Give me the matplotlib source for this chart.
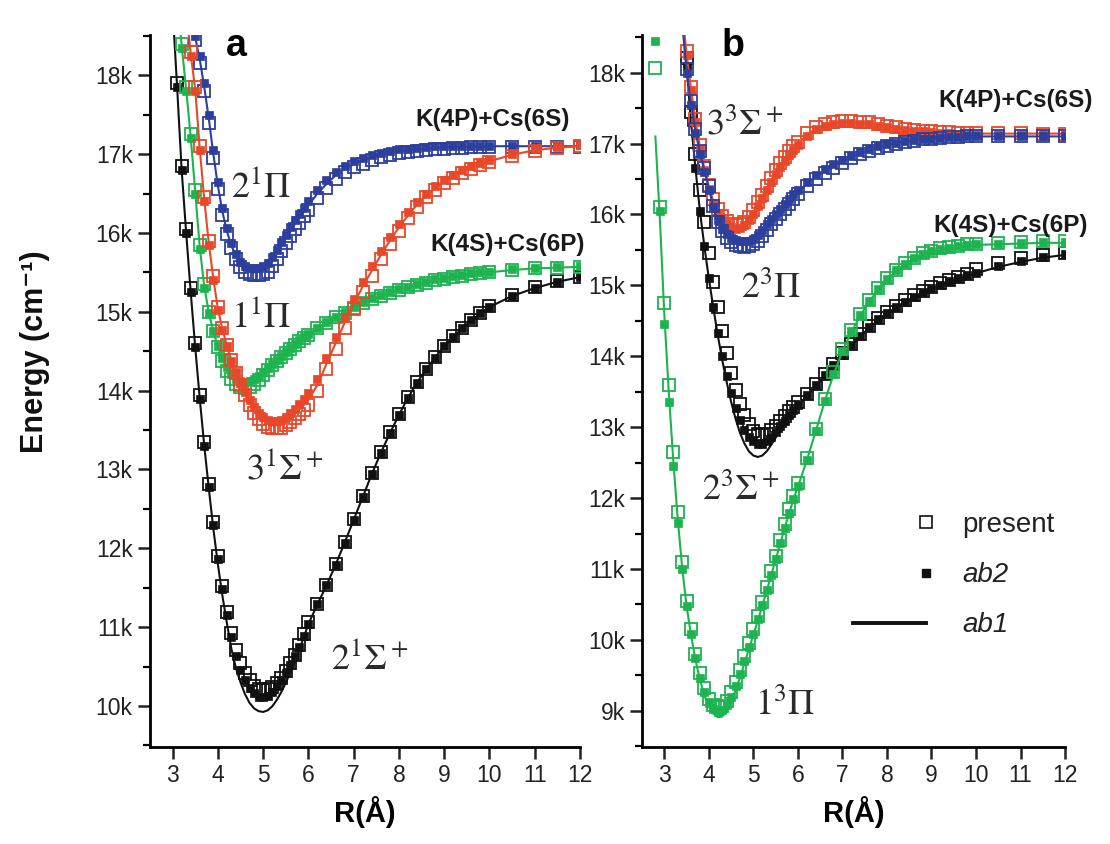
import numpy as np
import matplotlib
matplotlib.use("Agg")
import matplotlib.pyplot as plt
from matplotlib.ticker import MultipleLocator, FuncFormatter
from matplotlib.lines import Line2D
from matplotlib.legend_handler import HandlerLine2D

plt.rcParams['font.family'] = ['Liberation Sans', 'DejaVu Sans']
plt.rcParams['mathtext.fontset'] = 'stix'

BLACK = "#111111"
GREEN = "#1db34f"
RED = "#e8472a"
BLUE = "#2c3f9c"

# ---- panel a : singlet states, R in Angstrom, energies in cm-1 ----
R_a = [3.0, 3.1, 3.2, 3.3, 3.4, 3.5, 3.6, 3.7, 3.8, 3.9,
       4.0, 4.1, 4.2, 4.3, 4.4, 4.5, 4.6, 4.7, 4.8, 4.9,
       5.0, 5.1, 5.2, 5.3, 5.4, 5.5, 5.6, 5.7, 5.8, 5.9,
       6.0, 6.2, 6.4, 6.6, 6.8, 7.0, 7.2, 7.4, 7.6, 7.8,
       8.0, 8.2, 8.4, 8.6, 8.8, 9.0, 9.2, 9.4, 9.6, 9.8,
       10.0, 10.5, 11.0, 11.5, 12.0]

s21_present = [18900, 17900, 16850, 16050, 15300, 14600, 13950, 13350, 12820, 12330,
               11900, 11520, 11190, 10920, 10710, 10540, 10420, 10330, 10260, 10220,
               10200, 10210, 10240, 10290, 10360, 10440, 10540, 10650, 10770, 10910,
               11060, 11300, 11540, 11800, 12080, 12370, 12660, 12950, 13220, 13470,
               13700, 13920, 14110, 14280, 14430, 14570, 14690, 14800, 14900, 14990,
               15070, 15210, 15310, 15390, 15440]
s21_ab2 = [18850, 17850, 16800, 16000, 15250, 14550, 13900, 13300, 12780, 12290,
           11860, 11480, 11150, 10870, 10640, 10460, 10330, 10230, 10160, 10120,
           10110, 10130, 10180, 10250, 10330, 10420, 10520, 10630, 10750, 10890,
           11040, 11290, 11530, 11790, 12070, 12360, 12650, 12940, 13210, 13460,
           13690, 13910, 14100, 14270, 14420, 14560, 14680, 14790, 14890, 14980,
           15060, 15200, 15300, 15380, 15440]
s21_ab1 = [18850, 17850, 16800, 16000, 15250, 14550, 13900, 13300, 12760, 12250,
           11800, 11400, 11050, 10720, 10480, 10300, 10150, 10040, 9970, 9935,
           9925, 9945, 9995, 10075, 10175, 10295, 10425, 10565, 10715, 10875,
           11040, 11290, 11530, 11790, 12070, 12360, 12650, 12940, 13210, 13460,
           13690, 13910, 14100, 14270, 14420, 14560, 14680, 14790, 14890, 14980,
           15060, 15200, 15300, 15380, 15440]

p11_present = [None, 19000, 18400, 17850, 17250, 16550, 15850, 15350, 15000, 14750,
               14550, 14380, 14250, 14150, 14080, 14040, 14030, 14050, 14090, 14140,
               14200, 14260, 14320, 14380, 14430, 14480, 14530, 14580, 14630, 14670,
               14710, 14790, 14860, 14930, 14990, 15050, 15110, 15160, 15200, 15240,
               15280, 15310, 15340, 15370, 15400, 15420, 15440, 15460, 15480, 15490,
               15500, 15530, 15550, 15560, 15570]
p11_ab2 = [None, 19000, 18350, 17800, 17200, 16500, 15800, 15300, 14980, 14750,
           14570, 14420, 14300, 14210, 14150, 14120, 14110, 14120, 14150, 14190,
           14240, 14290, 14340, 14390, 14440, 14490, 14540, 14590, 14640, 14680,
           14720, 14800, 14870, 14940, 15000, 15060, 15120, 15170, 15210, 15250,
           15290, 15320, 15350, 15380, 15410, 15430, 15450, 15470, 15490, 15500,
           15510, 15540, 15560, 15570, 15580]
p11_ab1 = [None, 19000, 18380, 17820, 17220, 16520, 15820, 15320, 14990, 14750,
           14560, 14400, 14270, 14180, 14110, 14080, 14070, 14080, 14120, 14170,
           14220, 14280, 14330, 14380, 14430, 14480, 14530, 14580, 14630, 14670,
           14710, 14790, 14860, 14930, 14990, 15050, 15110, 15160, 15200, 15240,
           15280, 15310, 15340, 15370, 15400, 15420, 15440, 15460, 15480, 15490,
           15500, 15530, 15550, 15560, 15570]

s31_present = [None, None, None, 18900, 18300, 17850, 17100, 16450, 15900, 15450,
               15060, 14800, 14580, 14390, 14220, 14070, 13940, 13820, 13720, 13640,
               13580, 13540, 13520, 13520, 13530, 13560, 13600, 13650, 13700, 13760,
               13820, 13990, 14270, 14530, 14790, 15030, 15250, 15460, 15670, 15860,
               16030, 16190, 16330, 16450, 16550, 16630, 16700, 16760, 16810, 16860,
               16900, 16980, 17040, 17080, 17100]
s31_ab2 = [None, None, None, 18850, 18250, 17800, 17050, 16400, 15850, 15400,
           15020, 14770, 14560, 14380, 14230, 14100, 13980, 13880, 13790, 13720,
           13670, 13630, 13610, 13610, 13630, 13660, 13710, 13770, 13830, 13900,
           13970, 14150, 14420, 14680, 14930, 15160, 15380, 15580, 15770, 15950,
           16110, 16260, 16390, 16500, 16590, 16670, 16740, 16800, 16850, 16890,
           16930, 17000, 17060, 17090, 17110]
s31_ab1 = [None, None, None, 18870, 18270, 17820, 17070, 16420, 15870, 15420,
           15040, 14780, 14570, 14380, 14220, 14080, 13950, 13840, 13750, 13680,
           13620, 13580, 13560, 13560, 13580, 13610, 13650, 13700, 13760, 13820,
           13890, 14070, 14340, 14600, 14860, 15100, 15320, 15520, 15720, 15900,
           16070, 16220, 16360, 16470, 16570, 16650, 16720, 16780, 16830, 16870,
           16910, 16990, 17050, 17080, 17100]

p21_present = [None, None, None, None, 18900, 18450, 18150, 17800, 17400, 16950,
               16560, 16230, 15990, 15810, 15670, 15570, 15510, 15480, 15470, 15470,
               15480, 15510, 15580, 15670, 15770, 15870, 15960, 16050, 16130, 16210,
               16290, 16440, 16570, 16680, 16770, 16830, 16880, 16920, 16960, 16990,
               17010, 17030, 17040, 17050, 17060, 17070, 17080, 17080, 17090, 17090,
               17090, 17090, 17090, 17090, 17090]
p21_ab2 = [None, None, None, None, 18900, 18500, 18250, 17900, 17500, 17050,
           16650, 16310, 16060, 15870, 15730, 15630, 15580, 15560, 15550, 15560,
           15580, 15620, 15690, 15780, 15880, 15980, 16070, 16160, 16240, 16320,
           16400, 16550, 16670, 16770, 16850, 16910, 16950, 16990, 17020, 17040,
           17060, 17070, 17080, 17090, 17100, 17100, 17100, 17100, 17100, 17100,
           17100, 17100, 17100, 17100, 17110]
p21_ab1 = [None, None, None, None, 18900, 18480, 18200, 17850, 17450, 17000,
           16600, 16270, 16020, 15840, 15700, 15600, 15540, 15510, 15500, 15510,
           15530, 15570, 15640, 15730, 15830, 15930, 16020, 16110, 16190, 16270,
           16350, 16500, 16620, 16730, 16810, 16870, 16920, 16960, 16990, 17020,
           17040, 17050, 17060, 17070, 17080, 17090, 17090, 17100, 17100, 17100,
           17100, 17100, 17100, 17100, 17100]

# ---- panel b : triplet states ----
R_b = [2.8, 2.9, 3.0, 3.1, 3.2, 3.3, 3.4, 3.5, 3.6, 3.7,
       3.8, 3.9, 4.0, 4.1, 4.2, 4.3, 4.4, 4.5, 4.6, 4.7,
       4.8, 4.9, 5.0, 5.1, 5.2, 5.3, 5.4, 5.5, 5.6, 5.7,
       5.8, 5.9, 6.0, 6.2, 6.4, 6.6, 6.8, 7.0, 7.2, 7.4,
       7.6, 7.8, 8.0, 8.2, 8.4, 8.6, 8.8, 9.0, 9.2, 9.4,
       9.6, 9.8, 10.0, 10.5, 11.0, 11.5, 12.0]

p13_present = [18060, 16100, 14750, 13600, 12650, 11800, 11100, 10550, 10150, 9800,
               9530, 9320, 9170, 9080, 9050, 9070, 9140, 9260, 9410, 9580,
               9770, 9960, 10150, 10340, 10540, 10750, 10970, 11190, 11410, 11630,
               11840, 12030, 12210, 12570, 12980, 13400, 13780, 14100, 14370, 14600,
               14790, 14960, 15100, 15220, 15310, 15390, 15450, 15490, 15520, 15540,
               15560, 15580, 15590, 15600, 15610, 15620, 15620]
p13_ab2 = [18450, 16050, 14450, 13350, 12450, 11650, 11000, 10480, 10080, 9740,
           9470, 9260, 9110, 9020, 8990, 9010, 9080, 9200, 9350, 9520,
           9710, 9900, 10090, 10290, 10490, 10700, 10920, 11140, 11360, 11580,
           11790, 11990, 12170, 12540, 12950, 13370, 13750, 14080, 14350, 14580,
           14780, 14950, 15090, 15210, 15300, 15380, 15440, 15480, 15510, 15530,
           15550, 15570, 15580, 15590, 15600, 15610, 15610]
p13_ab1 = [17100, 15950, 14600, 13500, 12550, 11720, 11030, 10480, 10070, 9720,
           9440, 9220, 9060, 8960, 8910, 8920, 8990, 9120, 9290, 9470,
           9670, 9870, 10070, 10270, 10480, 10690, 10910, 11130, 11350, 11570,
           11780, 11980, 12160, 12530, 12940, 13360, 13740, 14070, 14340, 14570,
           14770, 14940, 15080, 15200, 15290, 15370, 15430, 15470, 15500, 15520,
           15540, 15560, 15570, 15580, 15590, 15600, 15600]

s23_present = [None, None, None, None, None, None, 18900, 18200, 17450, 16850,
               16350, 15900, 15450, 15050, 14700, 14350, 14040, 13770, 13530, 13330,
               13170, 13040, 12950, 12900, 12890, 12910, 12960, 13020, 13090, 13160,
               13230, 13290, 13350, 13470, 13610, 13750, 13890, 14040, 14180, 14310,
               14430, 14540, 14630, 14710, 14790, 14860, 14920, 14980, 15030, 15080,
               15120, 15160, 15230, 15320, 15390, 15430, 15460]
s23_ab2 = [None, None, None, None, None, None, 18800, 18100, 17300, 16650,
           16050, 15550, 15100, 14700, 14330, 14000, 13720, 13480, 13270, 13100,
           12960, 12860, 12800, 12770, 12770, 12800, 12860, 12930, 13010, 13090,
           13170, 13240, 13310, 13450, 13590, 13730, 13870, 14020, 14160, 14290,
           14410, 14520, 14610, 14690, 14770, 14840, 14900, 14960, 15010, 15060,
           15100, 15140, 15180, 15270, 15340, 15400, 15440]
s23_ab1 = [None, None, None, None, None, None, 18800, 18100, 17300, 16650,
           16050, 15550, 15100, 14690, 14300, 13950, 13640, 13360, 13120, 12920,
           12770, 12660, 12600, 12580, 12600, 12660, 12750, 12850, 12950, 13050,
           13140, 13220, 13300, 13440, 13580, 13720, 13860, 14010, 14150, 14280,
           14400, 14510, 14600, 14680, 14760, 14830, 14890, 14950, 15000, 15050,
           15090, 15130, 15170, 15260, 15330, 15390, 15430]

s33_present = [None, None, None, None, None, None, 18900, 18300, 17800, 17350,
               16980, 16680, 16420, 16220, 16080, 15980, 15910, 15870, 15850, 15860,
               15900, 15970, 16060, 16170, 16280, 16400, 16510, 16620, 16720, 16810,
               16890, 16960, 17020, 17150, 17230, 17280, 17310, 17320, 17320, 17310,
               17300, 17280, 17250, 17230, 17210, 17190, 17180, 17170, 17160, 17160,
               17150, 17150, 17150, 17150, 17150, 17140, 17140]
s33_ab2 = [None, None, None, None, None, None, 18850, 18250, 17750, 17300,
           16920, 16620, 16360, 16160, 16020, 15920, 15860, 15820, 15800, 15810,
           15850, 15920, 16010, 16120, 16230, 16350, 16460, 16570, 16670, 16760,
           16840, 16910, 16980, 17110, 17200, 17250, 17280, 17290, 17290, 17280,
           17270, 17250, 17230, 17210, 17190, 17180, 17170, 17160, 17150, 17150,
           17140, 17140, 17140, 17140, 17140, 17130, 17130]
s33_ab1 = [None, None, None, None, None, None, 18870, 18270, 17770, 17320,
           16950, 16650, 16390, 16190, 16050, 15950, 15880, 15840, 15820, 15830,
           15870, 15940, 16030, 16140, 16250, 16370, 16480, 16590, 16690, 16780,
           16860, 16930, 16990, 17120, 17210, 17260, 17290, 17300, 17300, 17290,
           17280, 17260, 17240, 17220, 17200, 17180, 17170, 17160, 17150, 17150,
           17150, 17140, 17140, 17140, 17140, 17140, 17140]

p23_present = [None, None, None, None, None, None, 18750, 18050, 17600, 17200,
               16900, 16650, 16400, 16120, 15900, 15760, 15670, 15610, 15570, 15550,
               15540, 15550, 15580, 15630, 15700, 15780, 15860, 15930, 16000, 16070,
               16150, 16220, 16290, 16400, 16500, 16590, 16660, 16730, 16790, 16850,
               16900, 16940, 16970, 17000, 17020, 17040, 17060, 17070, 17080, 17090,
               17090, 17100, 17100, 17100, 17100, 17100, 17100]
p23_ab2 = [None, None, None, None, None, None, 18700, 18000, 17550, 17150,
           16850, 16600, 16350, 16100, 15920, 15800, 15720, 15670, 15640, 15620,
           15620, 15630, 15660, 15710, 15780, 15860, 15940, 16010, 16080, 16150,
           16220, 16290, 16350, 16460, 16560, 16640, 16710, 16770, 16830, 16880,
           16920, 16960, 16990, 17010, 17030, 17050, 17060, 17070, 17080, 17090,
           17090, 17100, 17100, 17100, 17100, 17100, 17100]
p23_ab1 = [None, None, None, None, None, None, 18720, 18020, 17570, 17170,
           16870, 16620, 16370, 16100, 15900, 15770, 15690, 15630, 15600, 15580,
           15580, 15590, 15620, 15670, 15740, 15820, 15900, 15970, 16040, 16110,
           16180, 16250, 16320, 16430, 16530, 16610, 16680, 16750, 16810, 16860,
           16910, 16950, 16980, 17010, 17030, 17050, 17060, 17070, 17080, 17090,
           17090, 17100, 17100, 17100, 17100, 17100, 17100]


def draw_state(ax, r, present, ab2, ab1, color):
    r = np.array(r)
    ax.plot(r, np.array(present, dtype=float), ls='none', marker='s', ms=8.2,
            mfc='none', mec=color, mew=1.3)
    ax.plot(r, np.array(ab2, dtype=float), ls='none', marker='s', ms=5.2,
            mfc=color, mec=color, mew=0.5)
    ax.plot(r, np.array(ab1, dtype=float), '-', color=color, lw=1.5)


def style_axes(ax, ylim):
    ax.set_xlim(2.5, 12)
    ax.set_ylim(*ylim)
    for side in ['top', 'right']:
        ax.spines[side].set_visible(False)
    for side in ['left', 'bottom']:
        ax.spines[side].set_linewidth(2.0)
    ax.xaxis.set_major_locator(MultipleLocator(1))
    ax.yaxis.set_major_locator(MultipleLocator(1000))
    ax.yaxis.set_minor_locator(MultipleLocator(500))
    ax.yaxis.set_major_formatter(FuncFormatter(lambda v, p: "%dk" % round(v / 1000)))
    ax.tick_params(which='major', direction='out', length=8.5, width=1.8,
                   labelsize=16.5, colors='#222222', pad=4)
    ax.tick_params(which='minor', direction='out', length=5, width=1.6)
    ax.set_xlabel("R(Å)", fontsize=21, fontweight='bold', labelpad=6)


class RightMarker(HandlerLine2D):
    # put the single marker at the right end of the legend handle
    def create_artists(self, *args, **kwargs):
        arts = super().create_artists(*args, **kwargs)
        for a in arts:
            if a.get_marker() not in (None, 'None', 'none', ''):
                a.set_markevery([1])
        return arts


state_font = dict(fontsize=26, color='#2a2a2a', ha='center', va='center')
asym_font = dict(fontsize=17.5, fontweight='bold', color='#1a1a1a', ha='center', va='center')

fig = plt.figure(figsize=(11.1, 8.44), dpi=100)
ax_a = fig.add_axes([0.1351, 0.1149, 0.3874, 0.8436])
ax_b = fig.add_axes([0.5784, 0.1149, 0.3811, 0.8436])

draw_state(ax_a, R_a, s21_present, s21_ab2, s21_ab1, BLACK)
draw_state(ax_a, R_a, p11_present, p11_ab2, p11_ab1, GREEN)
draw_state(ax_a, R_a, p21_present, p21_ab2, p21_ab1, BLUE)
draw_state(ax_a, R_a, s31_present, s31_ab2, s31_ab1, RED)
style_axes(ax_a, (9480, 18510))

ax_a.text(4.96, 16580, r'$2^1\Pi$', **state_font)
ax_a.text(4.96, 14930, r'$1^1\Pi$', **state_font)
ax_a.text(5.47, 13000, r'$3^1\Sigma^+$', **state_font)
ax_a.text(7.35, 10590, r'$2^1\Sigma^+$', **state_font)
ax_a.text(10.06, 17440, "K(4P)+Cs(6S)", **asym_font)
ax_a.text(10.4, 15850, "K(4S)+Cs(6P)", **asym_font)
ax_a.text(0.2, 0.985, "a", transform=ax_a.transAxes, fontsize=27,
          fontweight='bold', ha='center', va='center')

draw_state(ax_b, R_b, s23_present, s23_ab2, s23_ab1, BLACK)
draw_state(ax_b, R_b, p13_present, p13_ab2, p13_ab1, GREEN)
draw_state(ax_b, R_b, s33_present, s33_ab2, s33_ab1, RED)
draw_state(ax_b, R_b, p23_present, p23_ab2, p23_ab1, BLUE)
style_axes(ax_b, (8490, 18530))

ax_b.text(4.81, 17260, r'$3^3\Sigma^+$', **state_font)
ax_b.text(5.4, 14960, r'$2^3\Pi$', **state_font)
ax_b.text(4.72, 12110, r'$2^3\Sigma^+$', **state_font)
ax_b.text(5.71, 9080, r'$1^3\Pi$', **state_font)
ax_b.text(10.88, 17610, "K(4P)+Cs(6S)", **asym_font)
ax_b.text(10.77, 15850, "K(4S)+Cs(6P)", **asym_font)
ax_b.text(0.215, 0.985, "b", transform=ax_b.transAxes, fontsize=27,
          fontweight='bold', ha='center', va='center')

h_present = Line2D([], [], ls='none', marker='s', ms=9, mfc='none', mec=BLACK, mew=1.2)
h_ab2 = Line2D([], [], ls='none', marker='s', ms=5.5, mfc=BLACK, mec=BLACK)
h_ab1 = Line2D([], [], ls='-', color=BLACK, lw=2.8)
leg = ax_b.legend([h_present, h_ab2, h_ab1], ["present", "ab2", "ab1"],
                  handler_map={h_present: RightMarker(numpoints=2),
                               h_ab2: RightMarker(numpoints=2)},
                  loc='upper left', bbox_to_anchor=(0.478, 0.33), frameon=False,
                  fontsize=20, numpoints=2, handlelength=3.25, handletextpad=1.0,
                  labelspacing=0.87, borderpad=0, borderaxespad=0)
for t in leg.get_texts()[1:]:
    t.set_style('italic')
for t in leg.get_texts():
    t.set_color('#222222')

fig.text(0.0315, 0.583, "Energy (cm⁻¹)", rotation=90, fontsize=22,
         fontweight='bold', ha='center', va='center', color='#111111')

fig.savefig("out.png", dpi=100)
